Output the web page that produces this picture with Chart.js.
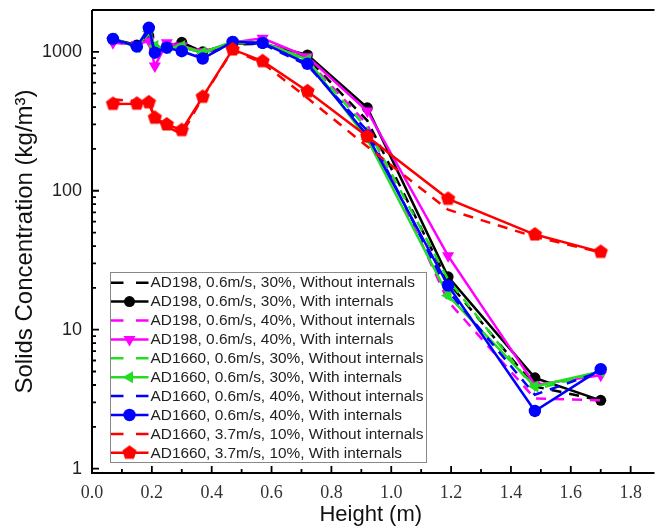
<!DOCTYPE html>
<html><head><meta charset="utf-8">
<script src="https://cdn.jsdelivr.net/npm/chart.js@4/dist/chart.umd.min.js"></script>
<style>html,body{margin:0;padding:0;background:#fff;overflow:hidden}#wrap{width:657px;height:528px;position:relative}</style>
</head><body><div id="wrap"><canvas id="c" width="657" height="528"></canvas></div>
<script>
// ---- data ----
const heights = [0.07,0.15,0.19,0.21,0.25,0.30,0.37,0.47,0.57,0.72,0.92,1.19,1.48,1.70];
const ad198_30_without  = [1220,1100,1250,1030,1080,1120,980,1130,1140,900,320,22,3.9,3.1];
const ad198_30_with     = [1230,1120,1300,1050,1100,1170,1000,1150,1150,950,395,24,4.5,3.1];
const ad198_40_without  = [1180,1100,1150,900,1100,1080,990,1150,1200,870,300,16,3.2,3.1];
const ad198_40_with     = [1160,1130,1200,790,1160,1100,1000,1170,1250,920,375,34,4.0,4.7];
const ad1660_30_without = [1240,1090,1350,1050,1060,1090,980,1160,1150,860,280,23,3.7,5.0];
const ad1660_30_with    = [1250,1080,1400,1100,1060,1100,990,1180,1170,880,235,17.6,3.9,5.0];
const ad1660_40_without = [1230,1080,1400,1000,1060,1020,910,1160,1140,800,270,19,3.4,5.0];
const ad1660_40_with    = [1240,1090,1490,985,1070,1010,895,1180,1160,820,250,20.8,2.6,5.2];
const ad1660_37_without = [455,440,430,330,290,255,470,1030,830,465,208,73,46.6,36];
const ad1660_37_with    = [422,423,433,335,300,273,474,1040,856,520,246,87.5,48.4,36.3];

const seriesLabels = [
  'AD198, 0.6m/s, 30%, Without internals',
  'AD198, 0.6m/s, 30%, With internals',
  'AD198, 0.6m/s, 40%, Without internals',
  'AD198, 0.6m/s, 40%, With internals',
  'AD1660, 0.6m/s, 30%, Without internals',
  'AD1660, 0.6m/s, 30%, With internals',
  'AD1660, 0.6m/s, 40%, Without internals',
  'AD1660, 0.6m/s, 40%, With internals',
  'AD1660, 3.7m/s, 10%, Without internals',
  'AD1660, 3.7m/s, 10%, With internals'
];
const seriesValues = [ad198_30_without, ad198_30_with, ad198_40_without, ad198_40_with,
  ad1660_30_without, ad1660_30_with, ad1660_40_without, ad1660_40_with,
  ad1660_37_without, ad1660_37_with];

const xTickValues = [0,0.1,0.2,0.3,0.4,0.5,0.6,0.7,0.8,0.9,1.0,1.1,1.2,1.3,1.4,1.5,1.6,1.7,1.8];
const xTickLabels = ['0.0','','0.2','','0.4','','0.6','','0.8','','1.0','','1.2','','1.4','','1.6','','1.8'];
const yTickValues = [1,2,3,4,5,6,7,8,9,10,20,30,40,50,60,70,80,90,100,200,300,400,500,600,700,800,900,1000,2000];
const yMajorTicks = [1,10,100,1000];

// ---- styles ----
const colors = ['#000000','#000000','#ff00ff','#ff00ff','#22dd22','#22dd22','#0000ff','#0000ff','#ff0000','#ff0000'];

function pentagon(color, r) {
  const c = document.createElement('canvas');
  const s = Math.ceil(r * 2 + 2);
  c.width = s; c.height = s;
  const g = c.getContext('2d');
  g.fillStyle = color;
  g.beginPath();
  for (let k = 0; k < 5; k++) {
    const a = -Math.PI / 2 + k * 2 * Math.PI / 5;
    const px = s / 2 + r * Math.cos(a), py = s / 2 + r * Math.sin(a);
    if (k === 0) g.moveTo(px, py); else g.lineTo(px, py);
  }
  g.closePath(); g.fill();
  return c;
}
const pentaImg = pentagon('#ff0000', 7.5);

const markerStyles = [
  null,
  {pointStyle:'circle', radius:5.5, rotation:0},
  null,
  {pointStyle:'triangle', radius:7, rotation:180},
  null,
  {pointStyle:'triangle', radius:7, rotation:-90},
  null,
  {pointStyle:'circle', radius:6.2, rotation:0},
  null,
  {pointStyle:pentaImg, radius:7.5, rotation:0}
];

const datasets = seriesValues.map((vals, i) => {
  const m = markerStyles[i];
  return {
    label: seriesLabels[i],
    data: heights.map((h, j) => ({x: h, y: vals[j]})),
    borderColor: colors[i],
    backgroundColor: colors[i],
    borderWidth: 2.5,
    borderDash: m ? [] : [10, 8],
    pointStyle: m ? m.pointStyle : false,
    pointRadius: m ? m.radius : 0,
    pointRotation: m ? m.rotation : 0,
    pointBorderWidth: 0,
    pointHoverRadius: m ? m.radius : 0,
    tension: 0,
    order: 20 - i
  };
});

const framePlugin = {
  id: 'frame',
  afterDatasetsDraw(chart) {
    const {ctx, chartArea: a, scales: {x, y}} = chart;
    ctx.save();
    // legend
    const lx = 110.5, ly = 272.5, lw = 316, lh = 190;
    ctx.fillStyle = '#fff';
    ctx.fillRect(lx, ly, lw, lh);
    ctx.strokeStyle = '#888';
    ctx.lineWidth = 1;
    ctx.strokeRect(lx, ly, lw, lh);
    ctx.font = '15.4px "Liberation Sans", Arial, sans-serif';
    ctx.textBaseline = 'middle';
    ctx.textAlign = 'left';
    chart.data.datasets.forEach((ds, i) => {
      const cy = 282.7 + i * 18.9;
      ctx.strokeStyle = ds.borderColor;
      ctx.lineWidth = 2.5;
      ctx.setLineDash(markerStyles[i] ? [] : [12.5, 12.5]);
      ctx.beginPath(); ctx.moveTo(111, cy); ctx.lineTo(148.5, cy); ctx.stroke();
      ctx.setLineDash([]);
      const m = markerStyles[i];
      if (m) {
        ctx.fillStyle = ds.backgroundColor;
        Chart.helpers.drawPoint(ctx, {pointStyle: m.pointStyle, radius: m.radius, rotation: m.rotation, borderWidth: 0}, 129.5, cy);
      }
      ctx.fillStyle = '#222';
      ctx.fillText(ds.label, 150.5, cy + 0.5);
    });
    // axes frame
    ctx.strokeStyle = '#000';
    ctx.lineWidth = 2;
    ctx.beginPath();
    ctx.moveTo(a.left, a.top); ctx.lineTo(a.right + 5, a.top);
    ctx.moveTo(a.left, a.top); ctx.lineTo(a.left, a.bottom);
    ctx.lineTo(a.right + 5, a.bottom);
    ctx.stroke();
    // inward ticks
    ctx.lineWidth = 1.8;
    ctx.beginPath();
    xTickValues.forEach((v, k) => {
      const px = x.getPixelForValue(v);
      const len = xTickLabels[k] ? 7 : 4;
      ctx.moveTo(px, a.bottom); ctx.lineTo(px, a.bottom - len);
    });
    yTickValues.forEach(v => {
      const py = y.getPixelForValue(v);
      if (py < a.top + 1) return;
      const len = yMajorTicks.includes(v) ? 7 : 4;
      ctx.moveTo(a.left, py); ctx.lineTo(a.left + len, py);
    });
    ctx.stroke();
    ctx.restore();
  }
};

new Chart(document.getElementById('c'), {
  type: 'line',
  data: {datasets},
  options: {
    responsive: false,
    animation: false,
    devicePixelRatio: 1,
    layout: {padding: {top: 10, left: 0, right: 0, bottom: 0}},
    plugins: {legend: {display: false}, tooltip: {enabled: false}},
    scales: {
      x: {
        type: 'linear', min: 0, max: 1.863,
        afterBuildTicks: s => { s.ticks = xTickValues.map(v => ({value: v})); },
        afterFit: s => { s.height = 55; s.paddingLeft = 0; s.paddingRight = 0; },
        ticks: {
          autoSkip: false, maxRotation: 0, minRotation: 0, padding: 9,
          color: '#333',
          font: {family: '"Liberation Serif", "Times New Roman", serif', size: 18},
          callback: (v, k) => xTickLabels[k]
        },
        grid: {display: false, drawTicks: false},
        border: {display: false},
        title: {display: true, text: 'Height (m)', color: '#111',
          font: {family: '"Liberation Sans", Arial, sans-serif', size: 22}, padding: {top: 0, bottom: 0}}
      },
      y: {
        type: 'logarithmic', min: 0.93, max: 2000,
        afterBuildTicks: s => { s.ticks = yTickValues.filter(v => v <= 1000).map(v => ({value: v})); },
        afterFit: s => { s.width = 92; s.paddingTop = 0; s.paddingBottom = 0; },
        ticks: {
          autoSkip: false, padding: 10, color: '#222',
          font: {family: '"Liberation Sans", Arial, sans-serif', size: 18},
          callback: v => yMajorTicks.includes(v) ? String(v) : ''
        },
        grid: {display: false, drawTicks: false},
        border: {display: false},
        title: {display: true, text: 'Solids Concentration (kg/m³)', color: '#111',
          font: {family: '"Liberation Sans", Arial, sans-serif', size: 24}, padding: {top: 11, bottom: 0}}
      }
    }
  },
  plugins: [framePlugin]
});
</script>
</body></html>
